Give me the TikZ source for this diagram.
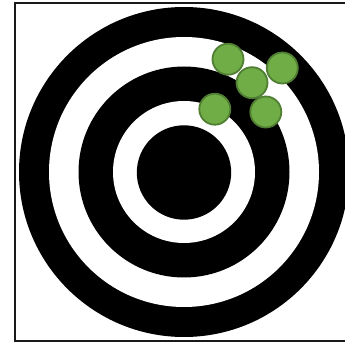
\documentclass[tikz,border=0pt]{standalone}
\definecolor{gfill}{HTML}{70AD47}
\definecolor{gline}{HTML}{507E32}
\tikzset{
  hole/.style={circle, fill=gfill, draw=gline, line width=1.8pt, minimum size=31pt, inner sep=0pt},
  ringb/.style={fill=black},
  ringw/.style={fill=white}
}
\begin{document}
\begin{tikzpicture}[x=1pt,y=-1pt]
\useasboundingbox (0,0) rectangle (345,344);
\clip (0,0) rectangle (345,344);
\draw[line width=2pt, black!90] (14.5,3.5) rectangle (360,340.5);
\fill[ringb] (184,172) circle (165);
\fill[ringw] (184,172) circle (135);
\fill[ringb] (184,172) circle (105.5);
\fill[ringw] (184,172) circle (71);
\fill[ringb] (184,172.5) circle (47.2);
\node[hole] (h1) at (228,59.2) {};
\node[hole] (h2) at (282.3,68) {};
\node[hole] (h3) at (252,82.7) {};
\node[hole] (h4) at (214.8,109.2) {};
\node[hole] (h5) at (265.8,112) {};
\end{tikzpicture}
\end{document}
